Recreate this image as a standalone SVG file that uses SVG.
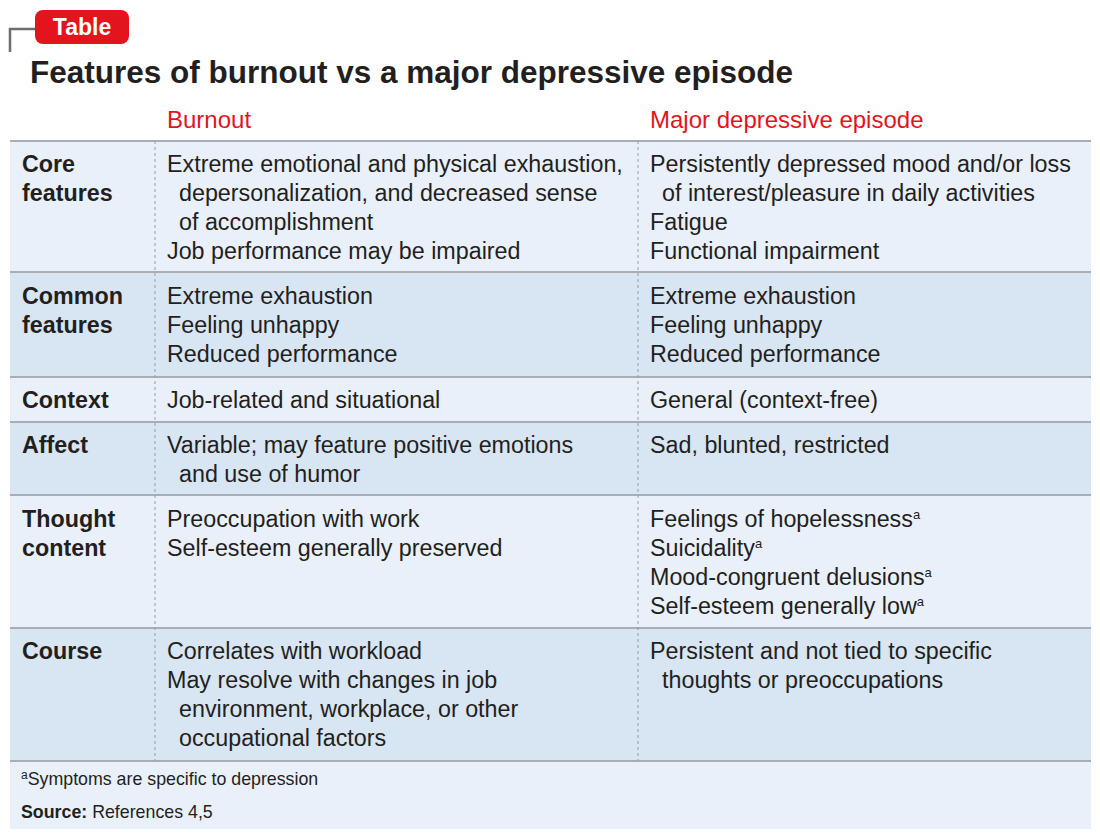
<svg xmlns="http://www.w3.org/2000/svg" width="1100" height="839" viewBox="0 0 1100 839">
<style>
text{font-family:"Liberation Sans",Arial,sans-serif;fill:#231f20}
.t{font-size:23.3px}
.b{font-size:23.3px;font-weight:bold}
.h{font-size:24px;fill:#e3141e}
.f{font-size:17.8px}
.sup{font-size:13px}
.sep{stroke:#a9aeb4;stroke-width:2}
.dash{stroke:#9a9ea3;stroke-width:1;stroke-dasharray:3,3}
</style>
<rect width="1100" height="839" fill="#fff"/>
<g id="badge">
<path d="M10,52 V29 H36" fill="none" stroke="#6d6e70" stroke-width="2.5"/>
<rect x="35" y="10" width="94" height="34" rx="8" fill="#e3141e"/>
<text x="82" y="35" text-anchor="middle" style="font-size:23px;font-weight:bold;fill:#fff">Table</text>
</g>
<text x="30" y="83" style="font-size:32px;font-weight:bold;fill:#231f20" textLength="763" lengthAdjust="spacingAndGlyphs">Features of burnout vs a major depressive episode</text>
<text class="h" x="167" y="128">Burnout</text>
<text class="h" x="650" y="128">Major depressive episode</text>
<g id="rows">
<rect x="10" y="141" width="1081" height="131" fill="#e9f0f9"/>
<rect x="10" y="272" width="1081" height="105" fill="#d8e5f2"/>
<rect x="10" y="377" width="1081" height="45" fill="#e9f0f9"/>
<rect x="10" y="422" width="1081" height="73" fill="#d8e5f2"/>
<rect x="10" y="495" width="1081" height="133" fill="#e9f0f9"/>
<rect x="10" y="628" width="1081" height="133" fill="#d8e5f2"/>
<rect x="10" y="761" width="1081" height="68" fill="#e9f0f9"/>
<line class="sep" x1="10" y1="141" x2="1091" y2="141"/>
<line class="sep" x1="10" y1="272" x2="1091" y2="272"/>
<line class="sep" x1="10" y1="377" x2="1091" y2="377"/>
<line class="sep" x1="10" y1="422" x2="1091" y2="422"/>
<line class="sep" x1="10" y1="495" x2="1091" y2="495"/>
<line class="sep" x1="10" y1="628" x2="1091" y2="628"/>
<line class="sep" x1="10" y1="761" x2="1091" y2="761"/>
<line class="dash" x1="155" y1="141" x2="155" y2="761"/>
<line class="dash" x1="638" y1="141" x2="638" y2="761"/>
</g>
<g id="core">
<text class="b" x="22" y="172">Core</text><text class="b" x="22" y="201">features</text>
<text class="t" x="167" y="172">Extreme emotional and physical exhaustion,</text>
<text class="t" x="179" y="201">depersonalization, and decreased sense</text>
<text class="t" x="179" y="230">of accomplishment</text>
<text class="t" x="167" y="259">Job performance may be impaired</text>
<text class="t" x="650" y="172">Persistently depressed mood and/or loss</text>
<text class="t" x="662" y="201">of interest/pleasure in daily activities</text>
<text class="t" x="650" y="230">Fatigue</text>
<text class="t" x="650" y="259">Functional impairment</text>
</g>
<g id="common">
<text class="b" x="22" y="304">Common</text><text class="b" x="22" y="333">features</text>
<text class="t" x="167" y="304">Extreme exhaustion</text>
<text class="t" x="167" y="333">Feeling unhappy</text>
<text class="t" x="167" y="362">Reduced performance</text>
<text class="t" x="650" y="304">Extreme exhaustion</text>
<text class="t" x="650" y="333">Feeling unhappy</text>
<text class="t" x="650" y="362">Reduced performance</text>
</g>
<g id="context">
<text class="b" x="22" y="408">Context</text>
<text class="t" x="167" y="408">Job-related and situational</text>
<text class="t" x="650" y="408">General (context-free)</text>
</g>
<g id="affect">
<text class="b" x="22" y="453">Affect</text>
<text class="t" x="167" y="453">Variable; may feature positive emotions</text>
<text class="t" x="179" y="482">and use of humor</text>
<text class="t" x="650" y="453">Sad, blunted, restricted</text>
</g>
<g id="thought">
<text class="b" x="22" y="527">Thought</text><text class="b" x="22" y="556">content</text>
<text class="t" x="167" y="527">Preoccupation with work</text>
<text class="t" x="167" y="556">Self-esteem generally preserved</text>
<text class="t" x="650" y="527">Feelings of hopelessness<tspan class="sup" dy="-8">a</tspan></text>
<text class="t" x="650" y="556">Suicidality<tspan class="sup" dy="-8">a</tspan></text>
<text class="t" x="650" y="585">Mood-congruent delusions<tspan class="sup" dy="-8">a</tspan></text>
<text class="t" x="650" y="614">Self-esteem generally low<tspan class="sup" dy="-8">a</tspan></text>
</g>
<g id="course">
<text class="b" x="22" y="659">Course</text>
<text class="t" x="167" y="659">Correlates with workload</text>
<text class="t" x="167" y="688">May resolve with changes in job</text>
<text class="t" x="179" y="717">environment, workplace, or other</text>
<text class="t" x="179" y="746">occupational factors</text>
<text class="t" x="650" y="659">Persistent and not tied to specific</text>
<text class="t" x="662" y="688">thoughts or preoccupations</text>
</g>
<g id="footer">
<text class="f" x="21" y="785"><tspan style="font-size:12px" dy="-6">a</tspan><tspan dy="6">Symptoms are specific to depression</tspan></text>
<text class="f" x="21" y="818"><tspan font-weight="bold">Source:</tspan> References 4,5</text>
</g>
</svg>
